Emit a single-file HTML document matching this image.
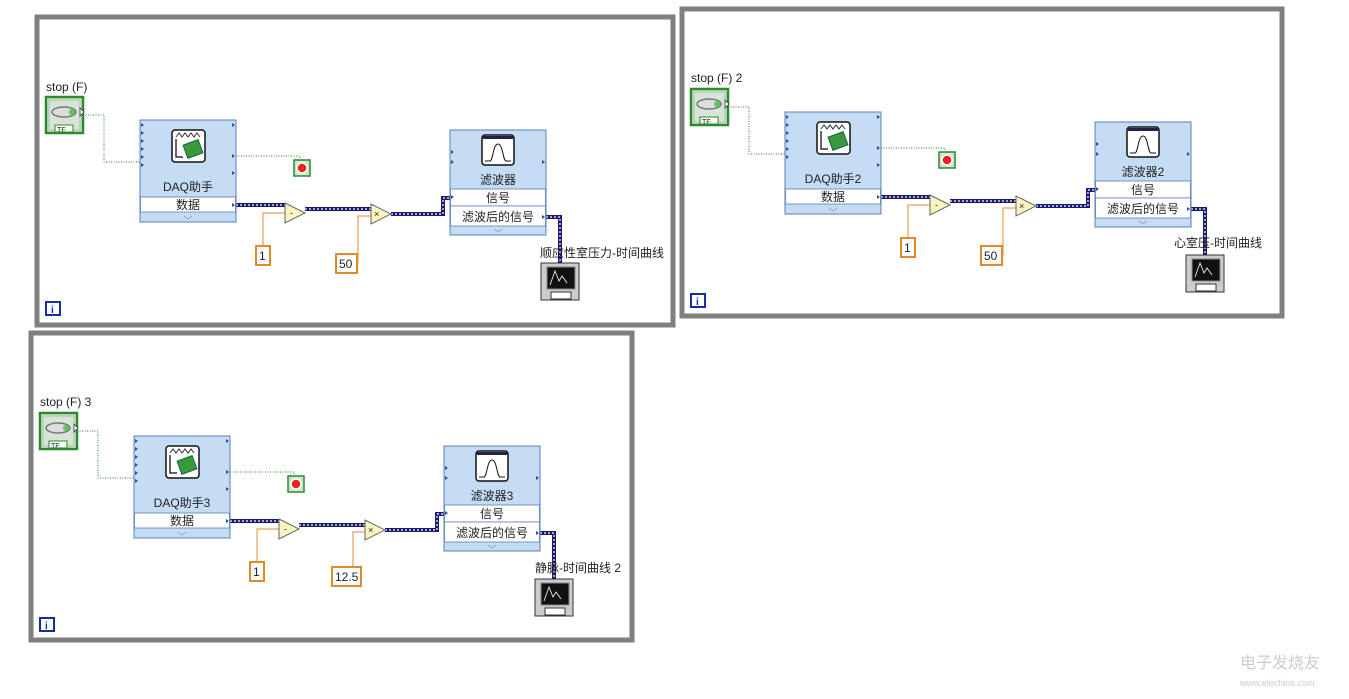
<!DOCTYPE html>
<html><head><meta charset="utf-8"><style>
html,body{margin:0;padding:0;background:#fff;width:1349px;height:699px;overflow:hidden}
svg text{font-family:"Liberation Sans","Noto Sans CJK SC",sans-serif;font-size:12px;fill:#222}
</style></head><body>
<svg width="1349" height="699" viewBox="0 0 1349 699" xmlns="http://www.w3.org/2000/svg">
<defs>
<g id="stopc">
<rect x="9" y="80" width="37" height="36" fill="#d8e4d8" stroke="#2a8a2a" stroke-width="2.5"/>
<rect x="12" y="83" width="31" height="30" fill="none" stroke="#9ac89a" stroke-width="1"/>
<ellipse cx="27" cy="95" rx="12" ry="5" fill="#ddd" stroke="#777" stroke-width="1.5"/>
<circle cx="35" cy="95" r="3" fill="#5c5"/>
<path d="M43,91 L47,95 L43,99 Z" fill="#fff" stroke="#333" stroke-width="0.8"/>
<rect x="18" y="108" width="18" height="7" fill="#fff" stroke="#2a8a2a"/>
<text x="20" y="115" style="font-size:7px">TF</text>
</g>
<g id="daqbox">
<rect x="103" y="103" width="96" height="102" fill="#c5dcf5" stroke="#5a7fb8"/>
<rect x="103.5" y="180" width="95" height="15" fill="#fff" stroke="#5a7fb8" stroke-width="0.8"/>
<rect x="135" y="113" width="33" height="32" rx="3" fill="#fff" stroke="#111" stroke-width="1.5"/>
<path d="M139,120 l3,-4 l3,4 l3,-4 l3,4 l3,-4 l3,4 l3,-4 l3,4" fill="none" stroke="#333"/>
<rect x="148" y="125" width="16" height="14" fill="#3a9a3a" stroke="#164" transform="rotate(-20 156 132)"/>
<path d="M139,122 V140 H146" fill="none" stroke="#333" stroke-width="1.5"/>
<path d="M104,106l3,2-3,2zM104,114l3,2-3,2zM104,122l3,2-3,2zM104,130l3,2-3,2zM104,138l3,2-3,2zM104,146l3,2-3,2zM195,106l3,2-3,2zM195,137l3,2-3,2zM195,154l3,2-3,2zM195,186l3,2-3,2z" fill="#3a4a8a"/>
<path d="M147,199 l4,3 l4,-3" fill="none" stroke="#8aa" stroke-width="0.8"/>
<text x="151" y="192" text-anchor="middle">数据</text>
</g>
<g id="filtbox">
<rect x="413" y="113" width="96" height="105" fill="#c5dcf5" stroke="#5a7fb8"/>
<rect x="413.5" y="172" width="95" height="17" fill="#fff" stroke="#5a7fb8" stroke-width="0.8"/>
<rect x="413.5" y="189" width="95" height="20" fill="#fff" stroke="#5a7fb8" stroke-width="0.8"/>
<rect x="445" y="118" width="32" height="30" rx="3" fill="#fff" stroke="#111" stroke-width="1.5"/>
<rect x="446" y="119" width="30" height="3" fill="#224"/>
<path d="M448,144 H453 C456,144 456,127 461,127 C466,127 466,144 469,144 H474" fill="none" stroke="#111"/>
<path d="M414,133l3,2-3,2zM414,143l3,2-3,2zM414,178l3,2-3,2zM505,143l3,2-3,2zM505,198l3,2-3,2z" fill="#3a4a8a"/>
<path d="M457,212 l4,3 l4,-3" fill="none" stroke="#8aa" stroke-width="0.8"/>
<text x="461" y="185" text-anchor="middle">信号</text>
<text x="461" y="204" text-anchor="middle">滤波后的信号</text>
</g>
<g id="wires">
<path d="M46,98 H67 V145 H103" fill="none" stroke="#2a8a2a" stroke-width="1" stroke-dasharray="1,1.5"/>
<path d="M199,139 H263 V143" fill="none" stroke="#2a8a2a" stroke-width="1" stroke-dasharray="1,1.5"/>
<rect x="257" y="143" width="16" height="16" fill="#cde8cd" stroke="#2a8a2a" stroke-width="1.5"/>
<circle cx="265" cy="151" r="5" fill="#e22" stroke="#fff" stroke-width="1.5"/>
<path d="M226,229 V196 H248" fill="none" stroke="#e08a2a" stroke-width="1"/>
<path d="M199,188 H248 M268,192 H334 M354,197 H406 V181 H413 M509,200 H523 V246" fill="none" stroke="#1a1a70" stroke-width="4"/>
<path d="M199,188 H248 M268,192 H334 M354,197 H406 V181 H413 M509,200 H523 V246" fill="none" stroke="#fff" stroke-width="1.2" stroke-dasharray="2,2"/>
<polygon points="248,186 268,196 248,206" fill="#fbf3c0" stroke="#666"/>
<text x="253" y="199" style="font-size:9px">-</text>
<polygon points="334,187 354,197 334,207" fill="#fbf3c0" stroke="#666"/>
<text x="337" y="200" style="font-size:9px">×</text>
<rect x="219" y="229" width="14" height="19" fill="#fff" stroke="#e08a2a" stroke-width="2"/>
<text x="222" y="243">1</text>
<rect x="504" y="246" width="38" height="37" fill="#ccc" stroke="#333"/>
<rect x="510" y="250" width="28" height="22" fill="#111" stroke="#888"/>
<path d="M513,268 l5,-14 l4,10 l3,-5 l5,7" fill="none" stroke="#fff" stroke-width="0.8"/>
<rect x="514" y="275" width="20" height="7" fill="#fff" stroke="#333"/>
<rect x="9" y="285" width="14" height="13" fill="#fff" stroke="#1a2aa0" stroke-width="2"/>
<text x="14" y="296" style="font-size:10px;font-weight:bold;fill:#1a2aa0">i</text>
</g>
</defs>

<g transform="translate(37,17)">
<rect x="0" y="0" width="636" height="308" fill="none" stroke="#7f7f7f" stroke-width="5"/>
<use href="#wires"/><use href="#stopc"/><use href="#daqbox"/><use href="#filtbox"/>
<text x="9" y="74">stop (F)</text>
<text x="151" y="174" text-anchor="middle">DAQ助手</text>
<text x="461" y="167" text-anchor="middle">滤波器</text>
<path d="M321,246 V199 H334" fill="none" stroke="#e08a2a"/>
<rect x="299" y="237" width="21" height="19" fill="#fff" stroke="#e08a2a" stroke-width="2"/>
<text x="302" y="251">50</text>
<text x="503" y="240">顺应性室压力-时间曲线</text>
</g>

<g transform="translate(682,9)">
<rect x="0" y="0" width="600" height="307" fill="none" stroke="#7f7f7f" stroke-width="5"/>
<use href="#wires"/><use href="#stopc"/><use href="#daqbox"/><use href="#filtbox"/>
<text x="9" y="73">stop (F) 2</text>
<text x="151" y="174" text-anchor="middle">DAQ助手2</text>
<text x="461" y="167" text-anchor="middle">滤波器2</text>
<path d="M321,246 V199 H334" fill="none" stroke="#e08a2a"/>
<rect x="299" y="237" width="21" height="19" fill="#fff" stroke="#e08a2a" stroke-width="2"/>
<text x="302" y="251">50</text>
<text x="492" y="238">心室压-时间曲线</text>
</g>

<g transform="translate(31,333)">
<rect x="0" y="0" width="601" height="307" fill="none" stroke="#7f7f7f" stroke-width="5"/>
<use href="#wires"/><use href="#stopc"/><use href="#daqbox"/><use href="#filtbox"/>
<text x="9" y="73">stop (F) 3</text>
<text x="151" y="174" text-anchor="middle">DAQ助手3</text>
<text x="461" y="167" text-anchor="middle">滤波器3</text>
<path d="M322,244 V199 H334" fill="none" stroke="#e08a2a"/>
<rect x="301" y="234" width="29" height="19" fill="#fff" stroke="#e08a2a" stroke-width="2"/>
<text x="304" y="248">12.5</text>
<text x="504" y="239">静脉-时间曲线 2</text>
</g>

<text x="1240" y="668" style="font-size:16px;fill:#ccc">电子发烧友</text>
<text x="1240" y="686" style="font-size:9px;fill:#ccc">www.elecfans.com</text>
</svg>
</body></html>
